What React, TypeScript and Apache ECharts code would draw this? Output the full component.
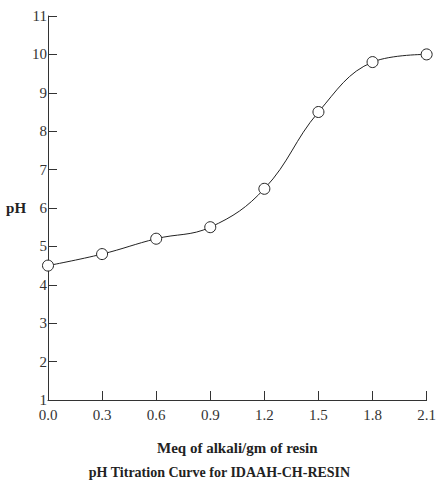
import React, { useEffect, useRef } from "react";
import * as echarts from "echarts";

const xValues = [0.0, 0.3, 0.6, 0.9, 1.2, 1.5, 1.8, 2.1];
const phValues = [4.5, 4.8, 5.2, 5.5, 6.5, 8.5, 9.8, 10.0];
const xAxisName = "Meq of alkali/gm of resin";
const yAxisName = "pH";
const chartTitle = "pH Titration Curve for IDAAH-CH-RESIN";

const FONT = "Liberation Serif, DejaVu Serif, serif";

export default function App() {
  const ref = useRef<HTMLDivElement>(null);
  useEffect(() => {
    if (!ref.current) return;
    const chart = echarts.init(ref.current, undefined, { renderer: "svg" });
    const axisColor = "#333";
    chart.setOption({
      animation: false,
      backgroundColor: "#fff",
      title: {
        text: chartTitle,
        left: "center",
        top: 465,
        padding: 0,
        textStyle: { fontFamily: FONT, fontSize: 14, fontWeight: "bold", color: "#222" },
      },
      grid: { left: 48, right: 8, top: 16, bottom: 81 },
      xAxis: {
        type: "value",
        min: 0,
        max: 2.1,
        interval: 0.3,
        name: xAxisName,
        nameLocation: "middle",
        nameGap: 40,
        nameTextStyle: { fontFamily: FONT, fontSize: 15, fontWeight: "bold", color: "#222" },
        axisLine: { lineStyle: { color: axisColor, width: 1 } },
        axisTick: { inside: true, length: 9, lineStyle: { color: axisColor } },
        axisLabel: {
          fontFamily: FONT,
          fontSize: 15,
          color: "#333",
          margin: 7,
          formatter: (v: number) => v.toFixed(1),
        },
        splitLine: { show: false },
      },
      yAxis: {
        type: "value",
        min: 1,
        max: 11,
        interval: 1,
        name: yAxisName,
        nameLocation: "middle",
        nameRotate: 0,
        nameGap: 17,
        nameTextStyle: {
          fontFamily: FONT,
          fontSize: 15,
          fontWeight: "bold",
          color: "#222",
          padding: [8, 0, 0, 0],
        },
        axisLine: { show: true, lineStyle: { color: axisColor, width: 1 } },
        axisTick: { show: true, inside: true, length: 9, lineStyle: { color: axisColor } },
        axisLabel: { fontFamily: FONT, fontSize: 15, color: "#333", margin: 1 },
        splitLine: { show: false },
      },
      series: [
        {
          type: "line",
          data: xValues.map((x, i) => [x, phValues[i]]),
          smooth: 0.4,
          symbol: "circle",
          symbolSize: 11,
          lineStyle: { color: "#222", width: 1 },
          itemStyle: { color: "#fff", borderColor: "#222", borderWidth: 1 },
        },
      ],
    });
    return () => chart.dispose();
  }, []);
  return (
    <div
      ref={ref}
      style={{ position: "fixed", left: 0, top: 0, width: 439, height: 481 }}
    />
  );
}
